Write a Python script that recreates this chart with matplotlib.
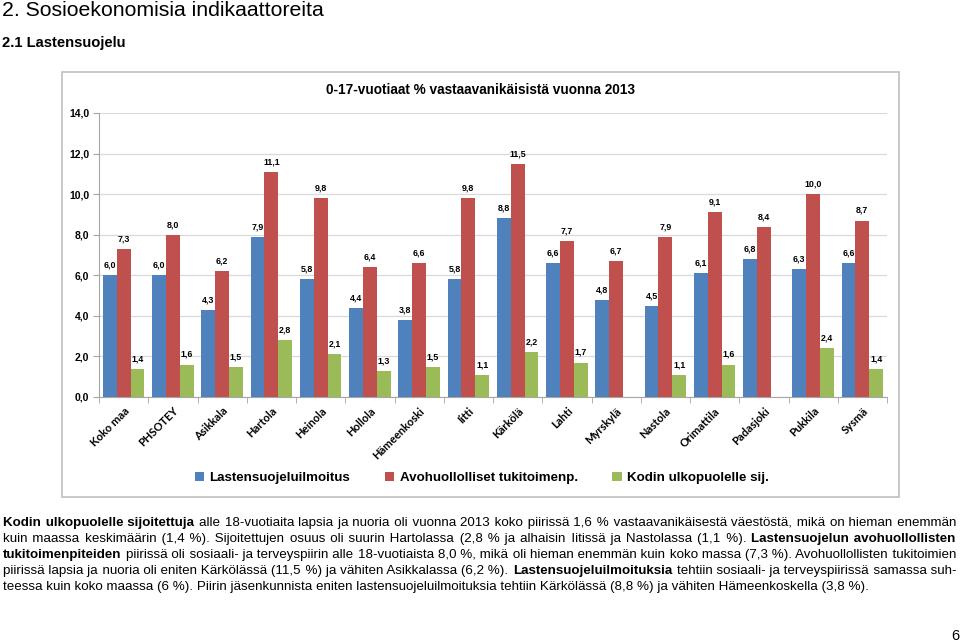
import numpy as np
import matplotlib
matplotlib.use("Agg")
import matplotlib.pyplot as plt
from matplotlib.patches import Rectangle

plt.rcParams['font.family'] = ['Liberation Sans', 'DejaVu Sans']

# --- data ---
kunnat = ['Koko maa', 'PHSOTEY', 'Asikkala', 'Hartola', 'Heinola', 'Hollola',
          'Hämeenkoski', 'Iitti', 'Kärkölä', 'Lahti', 'Myrskylä', 'Nastola',
          'Orimattila', 'Padasjoki', 'Pukkila', 'Sysmä']
ilmoitus = [6.0, 6.0, 4.3, 7.9, 5.8, 4.4, 3.8, 5.8, 8.8, 6.6, 4.8, 4.5, 6.1, 6.8, 6.3, 6.6]
avohuolto = [7.3, 8.0, 6.2, 11.1, 9.8, 6.4, 6.6, 9.8, 11.5, 7.7, 6.7, 7.9, 9.1, 8.4, 10.0, 8.7]
sijoitus = [1.4, 1.6, 1.5, 2.8, 2.1, 1.3, 1.5, 1.1, 2.2, 1.7, np.nan, 1.1, 1.6, np.nan, 2.4, 1.4]
sarjat = ['Lastensuojeluilmoitus', 'Avohuollolliset tukitoimenp.', 'Kodin ulkopuolelle sij.']
varit = ['#4F81BD', '#C0504D', '#9BBB59']

# paragraph lines: (text, bold) segments
kappale = [
    [("Kodin ulkopuolelle sijoitettuja", True),
     ("alle 18-vuotiaita lapsia ja nuoria oli vuonna 2013 koko piirissä 1,6 % vastaavanikäisestä väestöstä, mikä on hieman enemmän", False)],
    [("kuin maassa keskimäärin (1,4 %). Sijoitettujen osuus oli suurin Hartolassa (2,8 % ja alhaisin Iitissä ja Nastolassa (1,1 %).", False),
     ("Lastensuojelun avohuollollisten", True)],
    [("tukitoimenpiteiden", True),
     ("piirissä oli sosiaali- ja terveyspiirin alle 18-vuotiaista 8,0 %, mikä oli hieman enemmän kuin koko massa (7,3 %). Avohuollollisten tukitoimien", False)],
    [("piirissä lapsia ja nuoria oli eniten Kärkölässä (11,5 %) ja vähiten Asikkalassa (6,2 %).", False),
     ("Lastensuojeluilmoituksia", True),
     ("tehtiin sosiaali- ja terveyspiirissä samassa suh-", False)],
    [("teessa kuin koko maassa (6 %). Piirin jäsenkunnista eniten lastensuojeluilmoituksia tehtiin Kärkölässä (8,8 %) ja vähiten Hämeenkoskella (3,8 %).", False)],
]

W, H = 960, 644
fig = plt.figure(figsize=(W / 100, H / 100), dpi=100)

def fx(px):
    return px / W

def fy(py):
    return 1 - py / H

# --- headings ---
fig.text(fx(2), fy(10), '2. Sosioekonomisia indikaattoreita', fontsize=15.3,
         ha='left', va='center')
fig.text(fx(2), fy(43), '2.1 Lastensuojelu', fontsize=10.6, fontweight='bold',
         ha='left', va='center')

# chart frame
fig.patches.append(Rectangle((fx(62), fy(497)), (899 - 62) / W, (497 - 72) / H,
                             transform=fig.transFigure, fill=False,
                             edgecolor='#BFBFBF', lw=1.2))
fig.text(fx(480), fy(90), '0-17-vuotiaat % vastaavanikäisistä vuonna 2013',
         fontsize=9.8, fontweight='bold', ha='center', va='center')

# --- bars ---
ax = fig.add_axes([fx(99), fy(397), (887 - 99) / W, (397 - 113) / H])
x = np.arange(len(kunnat))
bw = 0.28
handles = []
for k, (vals, col, nimi) in enumerate(zip([ilmoitus, avohuolto, sijoitus], varit, sarjat)):
    bars = ax.bar(x + (k - 1) * bw, vals, width=bw, color=col, label=nimi, zorder=3)
    handles.append(bars)
    labels = ['' if np.isnan(v) else f'{v:.1f}'.replace('.', ',') for v in vals]
    ax.bar_label(bars, labels=labels, padding=4, fontsize=6.4, fontweight='bold')

ax.set_xlim(-0.5, len(kunnat) - 0.5)
ax.set_ylim(0, 14)
ax.set_yticks(np.arange(0, 15, 2))
ax.set_yticklabels([f'{v:.1f}'.replace('.', ',') for v in np.arange(0, 15, 2)],
                   fontsize=7.5, fontweight='bold')
ax.yaxis.grid(True, color='#D9D9D9', lw=0.9, zorder=0)
ax.set_axisbelow(True)
ax.set_xticks(x)
ax.set_xticklabels(kunnat, rotation=45, ha='right', va='top', rotation_mode='anchor',
                   fontsize=8, fontweight='bold', family=['Lato', 'DejaVu Sans'])
ax.set_xticks(np.arange(-0.5, len(kunnat)), minor=True)
ax.tick_params(axis='x', which='major', length=0, pad=6)
ax.tick_params(axis='x', which='minor', length=4, color='#A6A6A6', direction='out')
ax.tick_params(axis='y', length=4, color='#A6A6A6', pad=3)
for s in ['top', 'right']:
    ax.spines[s].set_visible(False)
for s in ['left', 'bottom']:
    ax.spines[s].set_color('#A6A6A6')

fig.legend(handles=handles, loc='center', bbox_to_anchor=(fx(482), fy(478)), ncol=3,
           frameon=False, prop={'size': 9.6, 'weight': 'bold'}, handlelength=0.7,
           handleheight=0.7, handletextpad=0.4, columnspacing=2.6)

# --- justified paragraph ---
# each bold/normal run is one text object; extra space comes from hair spaces
renderer = fig.canvas.get_renderer()
fs = 9.6
HAIR = '\u200a'

def leveys(txt, bold):
    t = fig.text(0, 0, txt, fontsize=fs, fontweight='bold' if bold else 'normal')
    w = t.get_window_extent(renderer).width
    t.remove()
    return w

vali = leveys('x x', False) - leveys('xx', False)
hius = leveys('x' + HAIR + 'x', False) - leveys('xx', False)
x0, x1 = 3, 956
for i, rivi in enumerate(kappale):
    sanat = [(w, b, j) for j, (teksti, b) in enumerate(rivi) for w in teksti.split(' ')]
    lev = [leveys(w, b) for w, b, _ in sanat]
    n = len(sanat)
    if i < len(kappale) - 1:
        gap = (x1 - x0 - sum(lev)) / (n - 1)
    else:
        gap = vali
    lisa = max(gap - vali, 0)
    yb = 526 + 16 * i
    pos = x0
    kaytetty = 0
    alku = {}
    teksti = {}
    for g, ((w, b, j), l) in enumerate(zip(sanat, lev)):
        if j not in alku:
            alku[j] = pos
            teksti[j] = w
        else:
            teksti[j] += w
        pos += l + gap
        if g < n - 1 and sanat[g + 1][2] == j:
            tavoite = int(round((g + 1) * lisa / hius))
            teksti[j] += ' ' + HAIR * (tavoite - kaytetty)
            kaytetty = tavoite
        else:
            kaytetty = int(round((g + 1) * lisa / hius))
    for j, (_, b) in enumerate(rivi):
        fig.text(fx(alku[j]), fy(yb), teksti[j], fontsize=fs,
                 fontweight='bold' if b else 'normal', ha='left', va='baseline')

fig.text(fx(955), fy(636), '6', fontsize=10.5, ha='center', va='center')

fig.savefig('out.png', dpi=100)
